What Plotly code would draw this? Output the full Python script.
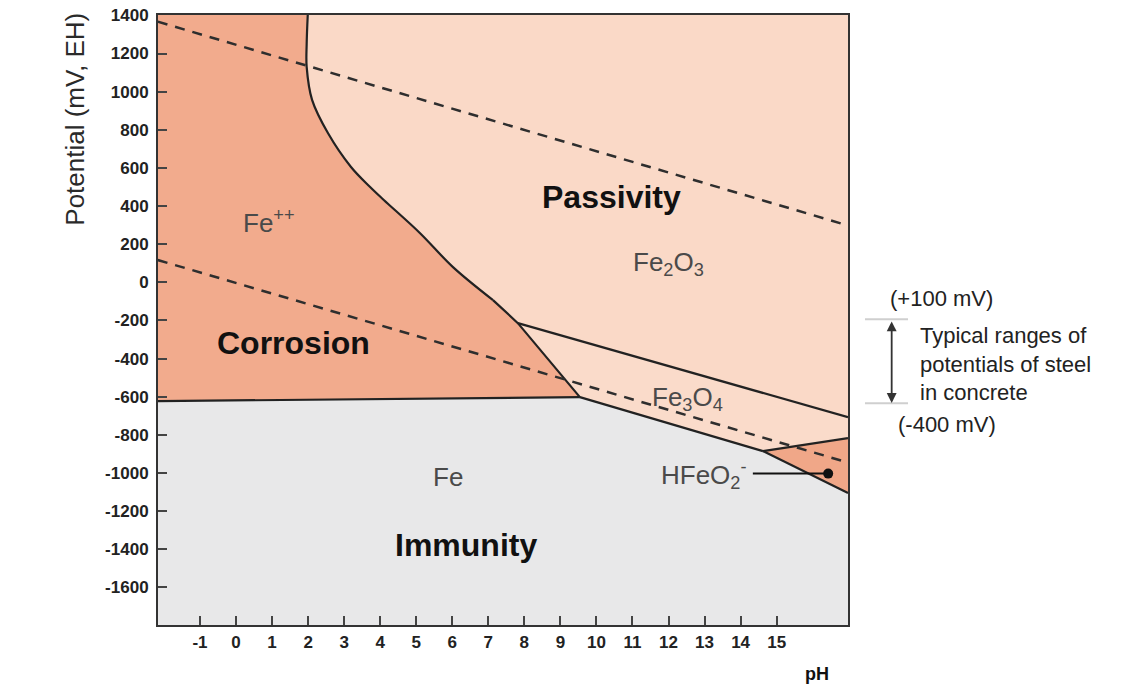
import plotly.graph_objects as go

# ---------------- data (pH, potential mV) ----------------
ph_ticks = list(range(-1, 16))
ph_ticktext = [str(v) for v in ph_ticks]
e_ticks = list(range(-1600, 1401, 200))
e_ticktext = [str(v) for v in e_ticks]

# Fe++ / Fe2O3 and Fe++ / Fe3O4 boundary (curve from top edge downwards)
curve_ph = [1.99, 1.96, 1.96, 2.11, 2.55, 3.19, 3.72, 4.10, 5.10, 6.02, 7.13, 7.82, 9.54]
curve_e = [1402, 1250, 1130, 957, 783, 605, 500, 432, 259, 80, -93, -214, -602]

# Fe++ / Fe boundary
fe2_fe_ph = [-2.17, 9.54]
fe2_fe_e = [-623, -602]

# Fe3O4 / Fe2O3 boundary
fe3o4_fe2o3_ph = [7.82, 16.98]
fe3o4_fe2o3_e = [-214, -707]

# Fe3O4 / Fe boundary
fe3o4_fe_ph = [9.54, 14.62]
fe3o4_fe_e = [-602, -885]

# Fe3O4 / HFeO2- boundary
fe3o4_hfeo2_ph = [14.62, 16.98]
fe3o4_hfeo2_e = [-885, -817]

# Fe / HFeO2- boundary
fe_hfeo2_ph = [14.62, 16.98]
fe_hfeo2_e = [-885, -1105]

# water stability lines (dashed)
o2_ph = [-2.17, 16.98]
o2_e = [1367, 298]
h2_ph = [-2.17, 16.98]
h2_e = [117, -945]

# HFeO2- pointer
ptr_ph = [14.34, 16.43]
ptr_e = [-1003, -1003]

X_RANGE = [-2.165, 16.98]
Y_RANGE = [-1797, 1402]

FONT = "Liberation Sans, Arial, sans-serif"
C_CORR = "#F2AB8D"
C_PASS = "#FAD9C7"
C_MAG = "#FADBCA"
C_HFEO2 = "#F0A788"
C_IMM = "#E8E8E9"
C_LINE = "#222222"

xlo, xhi = X_RANGE[0] - 0.5, X_RANGE[1] + 0.5
ylo, yhi = Y_RANGE[0] - 50, Y_RANGE[1] + 50

fig = go.Figure()


def poly(xs, ys, color):
    fig.add_trace(go.Scatter(x=xs, y=ys, fill="toself", fillcolor=color, mode="lines",
                             line=dict(width=0, color=color), hoverinfo="skip", showlegend=False))


# Passivity (Fe2O3)
i_tp = curve_ph.index(7.82)
pass_x = [curve_ph[0]] + curve_ph[:i_tp + 1] + [fe3o4_fe2o3_ph[1], xhi, xhi]
pass_y = [yhi] + curve_e[:i_tp + 1] + [fe3o4_fe2o3_e[1], fe3o4_fe2o3_e[1], yhi]
poly(pass_x, pass_y, C_PASS)

# Corrosion (Fe++)
corr_x = [xlo, xlo, fe2_fe_ph[0], fe2_fe_ph[1]] + curve_ph[::-1] + [curve_ph[0]]
corr_y = [yhi, fe2_fe_e[0], fe2_fe_e[0], fe2_fe_e[1]] + curve_e[::-1] + [yhi]
poly(corr_x, corr_y, C_CORR)

# Fe3O4
mag_x = [fe3o4_fe2o3_ph[0], fe3o4_fe2o3_ph[1], fe3o4_hfeo2_ph[1], fe3o4_hfeo2_ph[0],
         fe3o4_fe_ph[0], curve_ph[i_tp]]
mag_y = [fe3o4_fe2o3_e[0], fe3o4_fe2o3_e[1], fe3o4_hfeo2_e[1], fe3o4_hfeo2_e[0],
         fe3o4_fe_e[0], curve_e[i_tp]]
poly(mag_x, mag_y, C_MAG)

# HFeO2-
hf_x = [fe3o4_hfeo2_ph[0], fe3o4_hfeo2_ph[1], fe_hfeo2_ph[1], fe3o4_hfeo2_ph[0]]
hf_y = [fe3o4_hfeo2_e[0], fe3o4_hfeo2_e[1], fe_hfeo2_e[1], fe3o4_hfeo2_e[0]]
poly(hf_x, hf_y, C_HFEO2)

# Immunity (Fe)
imm_x = [xlo, fe2_fe_ph[0], fe2_fe_ph[1], fe3o4_fe_ph[1], fe_hfeo2_ph[1], xhi, xhi, xlo]
imm_y = [fe2_fe_e[0], fe2_fe_e[0], fe2_fe_e[1], fe3o4_fe_e[1], fe_hfeo2_e[1], fe_hfeo2_e[1], ylo, ylo]
poly(imm_x, imm_y, C_IMM)


def line(xs, ys, width=2.2, dash="solid", color=C_LINE, shape="linear"):
    fig.add_trace(go.Scatter(x=xs, y=ys, mode="lines",
                             line=dict(width=width, color=color, dash=dash, shape=shape, smoothing=1.0),
                             hoverinfo="skip", showlegend=False))


# smooth upper part of the Fe++/Fe2O3 curve, straight lower segments
line(curve_ph[:i_tp], curve_e[:i_tp], shape="spline")
line(curve_ph[i_tp - 1:], curve_e[i_tp - 1:])
line(fe2_fe_ph, fe2_fe_e)
line(fe3o4_fe2o3_ph, fe3o4_fe2o3_e)
line(fe3o4_fe_ph, fe3o4_fe_e)
line(fe3o4_hfeo2_ph, fe3o4_hfeo2_e)
line(fe_hfeo2_ph, fe_hfeo2_e)
line(o2_ph, o2_e, width=2.5, dash="10px,8px", color="#2e2e2e")
line(h2_ph, h2_e, width=2.5, dash="10px,8px", color="#2e2e2e")

# pointer for HFeO2-
fig.add_trace(go.Scatter(x=ptr_ph, y=ptr_e, mode="lines", line=dict(width=2, color="#111"),
                         hoverinfo="skip", showlegend=False))
fig.add_trace(go.Scatter(x=[ptr_ph[1]], y=[ptr_e[1]], mode="markers",
                         marker=dict(size=10, color="#111"), hoverinfo="skip", showlegend=False))

annotations = []


def label(x, y, text, size, bold=False, color="#4a4a4a", xanchor="center"):
    annotations.append(dict(x=x, y=y, xref="x", yref="y", text=("<b>%s</b>" % text) if bold else text,
                            showarrow=False, xanchor=xanchor, yanchor="middle",
                            font=dict(family=FONT, size=size, color=color)))


label(0.92, 320, "Fe<sup>++</sup>", 26)
label(10.42, 445, "Passivity", 32, bold=True, color="#111")
label(12.01, 100, "Fe<sub>2</sub>O<sub>3</sub>", 26)
label(1.59, -320, "Corrosion", 32, bold=True, color="#111")
label(12.53, -610, "Fe<sub>3</sub>O<sub>4</sub>", 26)
label(5.88, -1022, "Fe", 26)
label(6.38, -1380, "Immunity", 32, bold=True, color="#111")
label(14.24, -1010, "HFeO<sub>2</sub><sup>-</sup>", 26, xanchor="right")


# outside texts (paper coordinates)
def ptext(x, y, text, size, xanchor="center", bold=False, color="#222", angle=0, align="center"):
    annotations.append(dict(x=x, y=y, xref="paper", yref="paper",
                            text=("<b>%s</b>" % text) if bold else text, showarrow=False,
                            xanchor=xanchor, yanchor="middle", textangle=angle, align=align,
                            font=dict(family=FONT, size=size, color=color)))


ptext(-0.1203, 0.830, "Potential (mV, EH)", 26, angle=-90, color="#2a2a2a")
ptext(0.955, -0.080, "pH", 18, bold=True, color="#111")
ptext(1.1362, 0.536, "(+100 mV)", 22)
ptext(1.1428, 0.328, "(-400 mV)", 22)
ptext(1.1015, 0.428, "Typical ranges of<br>potentials of steel<br>in concrete", 22, xanchor="left", align="left")

# double arrow
annotations.append(dict(x=1.0633, y=0.364, xref="paper", yref="paper", ax=0, ay=-83,
                        axref="pixel", ayref="pixel", text="", showarrow=True,
                        arrowhead=2, arrowside="end+start", arrowsize=1.1, arrowwidth=1.8,
                        arrowcolor="#333", standoff=0, startstandoff=0))

shapes = []
for yy in (0.5011, 0.3634):
    shapes.append(dict(type="line", xref="paper", yref="paper", x0=1.0246, x1=1.0870, y0=yy, y1=yy,
                       line=dict(color="#cfcfcf", width=2)))

axis_common = dict(ticks="inside", ticklen=9, tickwidth=1.5, tickcolor="#444",
                   showline=True, mirror=True, linecolor="#333", linewidth=2,
                   showgrid=False, zeroline=False, automargin=False, ticklabeloverflow="allow",
                   tickfont=dict(family=FONT, size=17, color="#222", weight="bold"))

fig.update_layout(
    width=1135, height=687,
    margin=dict(l=158, r=287, t=15, b=62, autoexpand=False),
    paper_bgcolor="white", plot_bgcolor=C_PASS,
    showlegend=False,
    annotations=annotations, shapes=shapes,
    xaxis=dict(range=X_RANGE, tickmode="array", tickvals=ph_ticks, ticktext=ph_ticktext,
               ticklabelstandoff=1, **axis_common),
    yaxis=dict(range=Y_RANGE, tickmode="array", tickvals=e_ticks, ticktext=e_ticktext,
               ticklabelstandoff=4, **axis_common),
)

# remove the default 8px page margin so the figure fills the window exactly
fig.write_html("out.html", config={"displayModeBar": False},
               post_script="document.body.style.margin='0px';")
